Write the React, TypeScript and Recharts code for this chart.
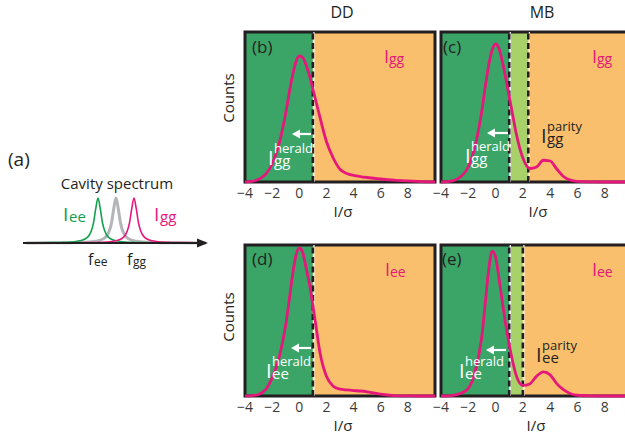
import React from 'react';
import { ComposedChart, LineChart, Line, XAxis, YAxis, ReferenceArea, ReferenceLine } from 'recharts';

const FONT = "'Open Sans', 'Noto Sans', sans-serif";
const INK = '#231f20';
const PINK = '#e5177b';
const DARK_GREEN = '#3ba568';
const LIGHT_GREEN = '#a8d16a';
const ORANGE = '#fabf6c';

// I/sigma grid shared by the four histograms
const sigmaGrid = [-4, -3.5, -3, -2.5, -2, -1.5, -1, -0.75, -0.5, -0.25, 0, 0.25, 0.5, 0.75, 1, 1.25, 1.5, 2, 2.5, 3, 3.5, 4, 4.5, 5, 5.5, 6, 7, 8, 9, 10];
const sigmaTicks = [-4, -2, 0, 2, 4, 6, 8];

// normalised counts
const ddGG = [0, 0.004, 0.018, 0.05, 0.12, 0.25, 0.46, 0.59, 0.71, 0.8, 0.84, 0.83, 0.78, 0.71, 0.62, 0.53, 0.44, 0.27, 0.16, 0.085, 0.057, 0.044, 0.036, 0.03, 0.025, 0.02, 0.012, 0.007, 0.003, 0.001];
const mbGG = [0, 0.003, 0.012, 0.04, 0.1, 0.24, 0.48, 0.64, 0.78, 0.88, 0.92, 0.89, 0.8, 0.69, 0.57, 0.45, 0.33, 0.16, 0.09, 0.1, 0.145, 0.14, 0.085, 0.035, 0.012, 0.004, 0.001, 0, 0, 0];
const ddEE = [0, 0.002, 0.01, 0.04, 0.12, 0.25, 0.47, 0.63, 0.8, 0.93, 0.98, 0.95, 0.85, 0.74, 0.6, 0.45, 0.3, 0.13, 0.065, 0.045, 0.04, 0.036, 0.033, 0.028, 0.02, 0.012, 0.003, 0.001, 0, 0];
const mbEE = [0, 0.001, 0.006, 0.02, 0.05, 0.16, 0.4, 0.62, 0.84, 0.96, 0.92, 0.78, 0.62, 0.47, 0.34, 0.23, 0.14, 0.07, 0.08, 0.13, 0.16, 0.14, 0.08, 0.04, 0.015, 0.005, 0.001, 0, 0, 0];

// thresholds
const heraldCut = 1;
const parityCutGG = 2.4;
const parityCutEE = 2;

// cavity spectrum (panel a): one lorentzian profile, three centres
const lineOffsets = [-10, -7, -5, -4, -3, -2.5, -2, -1.5, -1.25, -1, -0.75, -0.5, -0.25, 0, 0.25, 0.5, 0.75, 1, 1.25, 1.5, 2, 2.5, 3, 4, 5, 7, 10];
const lineShape = [0.002, 0.004, 0.008, 0.0125, 0.022, 0.031, 0.048, 0.083, 0.115, 0.168, 0.265, 0.447, 0.764, 1, 0.764, 0.447, 0.265, 0.168, 0.115, 0.083, 0.048, 0.031, 0.022, 0.0125, 0.008, 0.004, 0.002];
const centreEE = -2;
const centreMid = 0;
const centreGG = 2;

const toRows = (vals: number[]) => sigmaGrid.map((x, i) => ({ x, y: vals[i] }));
const toLine = (c: number) => lineOffsets.map((o, i) => ({ x: c + o, y: lineShape[i] }));
const fmt = (v: number) => (v < 0 ? '\u2212' + Math.abs(v) : String(v));

type Band = { from: number; to: number; color: string };

function Panel({ left, top, plotH, plotW, vals, bands, cuts }: { left: number; top: number; plotH: number; plotW: number; vals: number[]; bands: Band[]; cuts: number[] }) {
  // left is the plot's left edge; the svg starts 15px earlier so the -4 label fits
  return (
    <div style={{ position: 'absolute', left: left - 15, top }}>
      <ComposedChart width={plotW + 20} height={4 + plotH + 46} data={toRows(vals)} margin={{ top: 4, right: 5, left: 15, bottom: 0 }}>
        <XAxis type="number" dataKey="x" domain={[-4, 10]} ticks={sigmaTicks} interval={0} tickFormatter={fmt}
          axisLine={false} tickLine={false} tickSize={6} tickMargin={0} height={46}
          tick={{ fontSize: 14, fill: '#3a3a3a', fontFamily: FONT }} allowDataOverflow />
        <XAxis xAxisId="top" orientation="top" mirror type="number" dataKey="x" domain={[-4, 10]} ticks={sigmaTicks}
          height={0} tick={false} axisLine={false} tickSize={4} tickLine={{ stroke: INK, strokeWidth: 1.5 }} />
        <XAxis xAxisId="bot" orientation="bottom" mirror type="number" dataKey="x" domain={[-4, 10]} ticks={sigmaTicks}
          height={0} tick={false} axisLine={false} tickSize={4} tickLine={{ stroke: INK, strokeWidth: 1.5 }} />
        <YAxis type="number" domain={[0, 1]} hide />
        {bands.map((b, i) => (
          <ReferenceArea key={i} x1={b.from} x2={b.to} y1={0} y2={1} fill={b.color} fillOpacity={1} stroke="none" />
        ))}
        <ReferenceArea x1={-4} x2={10} y1={0} y2={1} fill="none" stroke={INK} strokeWidth={3} />
        {cuts.map((c, i) => (
          <ReferenceLine key={'w' + i} x={c + 0.08} stroke="#ffffff" strokeWidth={1.2} />
        ))}
        {cuts.map((c, i) => (
          <ReferenceLine key={'k' + i} x={c} stroke={INK} strokeWidth={2.6} strokeDasharray="6 3.5" />
        ))}
        <Line dataKey="y" type="monotone" stroke={PINK} strokeWidth={2.8} dot={false} isAnimationActive={false} />
      </ComposedChart>
    </div>
  );
}

function Sym({ x, y, size, sub, sup, color, subSize, gap, base = 'I' }: { x: number; y: number; size: number; sub: string; sup?: string; color: string; subSize: number; gap: number; base?: string }) {
  return (
    <g fill={color} fontFamily={FONT}>
      <text x={x} y={y} fontSize={size}>{base}</text>
      {sup && <text x={x + gap} y={y - size * 0.62} fontSize={13}>{sup}</text>}
      <text x={x + gap} y={y + 1} fontSize={subSize}>{sub}</text>
    </g>
  );
}

function WhiteArrow({ tip, tail, y }: { tip: number; tail: number; y: number }) {
  return (
    <g>
      <line x1={tip + 6} y1={y} x2={tail} y2={y} stroke="#fff" strokeWidth={2.2} />
      <polygon points={`${tip},${y} ${tip + 8},${y - 4.5} ${tip + 8},${y + 4.5}`} fill="#fff" />
    </g>
  );
}

const ddBands: Band[] = [
  { from: -4, to: heraldCut, color: DARK_GREEN },
  { from: heraldCut, to: 10, color: ORANGE },
];
const mbBandsGG: Band[] = [
  { from: -4, to: heraldCut, color: DARK_GREEN },
  { from: heraldCut, to: parityCutGG, color: LIGHT_GREEN },
  { from: parityCutGG, to: 10, color: ORANGE },
];
const mbBandsEE: Band[] = [
  { from: -4, to: heraldCut, color: DARK_GREEN },
  { from: heraldCut, to: parityCutEE, color: LIGHT_GREEN },
  { from: parityCutEE, to: 10, color: ORANGE },
];

export default function App() {
  return (
    <div style={{ position: 'absolute', left: 0, top: 0, width: 625, height: 441, overflow: 'hidden', background: '#fff', fontFamily: FONT }}>
      {/* (a) cavity spectrum */}
      <div style={{ position: 'absolute', left: 26, top: 190 }}>
        <LineChart width={180} height={57} margin={{ top: 8, right: 0, left: 0, bottom: 4 }}>
          <XAxis type="number" dataKey="x" domain={[-10, 10]} hide allowDataOverflow />
          <YAxis type="number" domain={[0, 1]} hide />
          <Line data={toLine(centreMid)} dataKey="y" type="monotone" stroke="#b3b5b8" strokeWidth={3} dot={false} isAnimationActive={false} />
          <Line data={toLine(centreEE)} dataKey="y" type="monotone" stroke="#12a04c" strokeWidth={1.6} dot={false} isAnimationActive={false} />
          <Line data={toLine(centreGG)} dataKey="y" type="monotone" stroke={PINK} strokeWidth={1.6} dot={false} isAnimationActive={false} />
        </LineChart>
      </div>

      <Panel left={245} top={28} plotH={150} plotW={190} vals={ddGG} bands={ddBands} cuts={[heraldCut]} />
      <Panel left={441} top={28} plotH={150} plotW={191} vals={mbGG} bands={mbBandsGG} cuts={[heraldCut, parityCutGG]} />
      <Panel left={245} top={241} plotH={151} plotW={190} vals={ddEE} bands={ddBands} cuts={[heraldCut]} />
      <Panel left={441} top={241} plotH={151} plotW={191} vals={mbEE} bands={mbBandsEE} cuts={[heraldCut, parityCutEE]} />

      <svg width={625} height={441} style={{ position: 'absolute', left: 0, top: 0, pointerEvents: 'none' }} fontFamily={FONT}>
        {/* panel (a) */}
        <text x={8} y={166} fontSize={19} fill={INK}>(a)</text>
        <text x={117} y={189} fontSize={15} fill={INK} textAnchor="middle">Cavity spectrum</text>
        <line x1={23} y1={243} x2={199} y2={243} stroke={INK} strokeWidth={2} />
        <polygon points="208,243 197,238.5 197,247.5" fill={INK} />
        <Sym x={63} y={221} size={19} sub="ee" subSize={15} gap={6} color="#12a04c" />
        <Sym x={154} y={221} size={19} sub="gg" subSize={15} gap={6} color={PINK} />
        <Sym x={88} y={265} size={16} sub="ee" subSize={12} gap={6} color={INK} base="f" />
        <Sym x={127} y={265} size={16} sub="gg" subSize={12} gap={6} color={INK} base="f" />

        {/* titles */}
        <text x={342} y={18} fontSize={16} fill={INK} textAnchor="middle">DD</text>
        <text x={542} y={18} fontSize={16} fill={INK} textAnchor="middle">MB</text>
        <text transform="translate(234,98) rotate(-90)" fontSize={15} fill={INK} textAnchor="middle">Counts</text>
        <text transform="translate(234,317) rotate(-90)" fontSize={15} fill={INK} textAnchor="middle">Counts</text>
        <text x={343} y={217} fontSize={15} fill={INK} textAnchor="middle">I/σ</text>
        <text x={538} y={217} fontSize={15} fill={INK} textAnchor="middle">I/σ</text>
        <text x={343} y={431} fontSize={15} fill={INK} textAnchor="middle">I/σ</text>
        <text x={536} y={431} fontSize={15} fill={INK} textAnchor="middle">I/σ</text>

        {/* panel letters */}
        <text x={252} y={53} fontSize={17} fill={INK}>(b)</text>
        <text x={443} y={53} fontSize={17} fill={INK}>(c)</text>
        <text x={252} y={265} fontSize={17} fill={INK}>(d)</text>
        <text x={442} y={265} fontSize={17} fill={INK}>(e)</text>

        {/* state labels */}
        <Sym x={384} y={63} size={18} sub="gg" subSize={14} gap={5} color={PINK} />
        <Sym x={592} y={63} size={18} sub="gg" subSize={14} gap={5} color={PINK} />
        <Sym x={385} y={276} size={18} sub="ee" subSize={14} gap={5} color={PINK} />
        <Sym x={592} y={276} size={18} sub="ee" subSize={14} gap={5} color={PINK} />

        {/* herald windows */}
        <WhiteArrow tip={292} tail={311} y={134} />
        <WhiteArrow tip={487} tail={508} y={133} />
        <WhiteArrow tip={291} tail={311} y={348} />
        <WhiteArrow tip={486} tail={506} y={350} />
        <Sym x={268} y={165} size={20} sub="gg" subSize={15} sup="herald" gap={6} color="#ffffff" />
        <Sym x={465} y={163} size={20} sub="gg" subSize={15} sup="herald" gap={6} color="#ffffff" />
        <Sym x={266} y={378} size={20} sub="ee" subSize={15} sup="herald" gap={6} color="#ffffff" />
        <Sym x={459} y={378} size={20} sub="ee" subSize={15} sup="herald" gap={6} color="#ffffff" />

        {/* parity windows */}
        <Sym x={541} y={143} size={20} sub="gg" subSize={15} sup="parity" gap={6} color={INK} />
        <Sym x={536} y={362} size={20} sub="ee" subSize={15} sup="parity" gap={6} color={INK} />
      </svg>
    </div>
  );
}
